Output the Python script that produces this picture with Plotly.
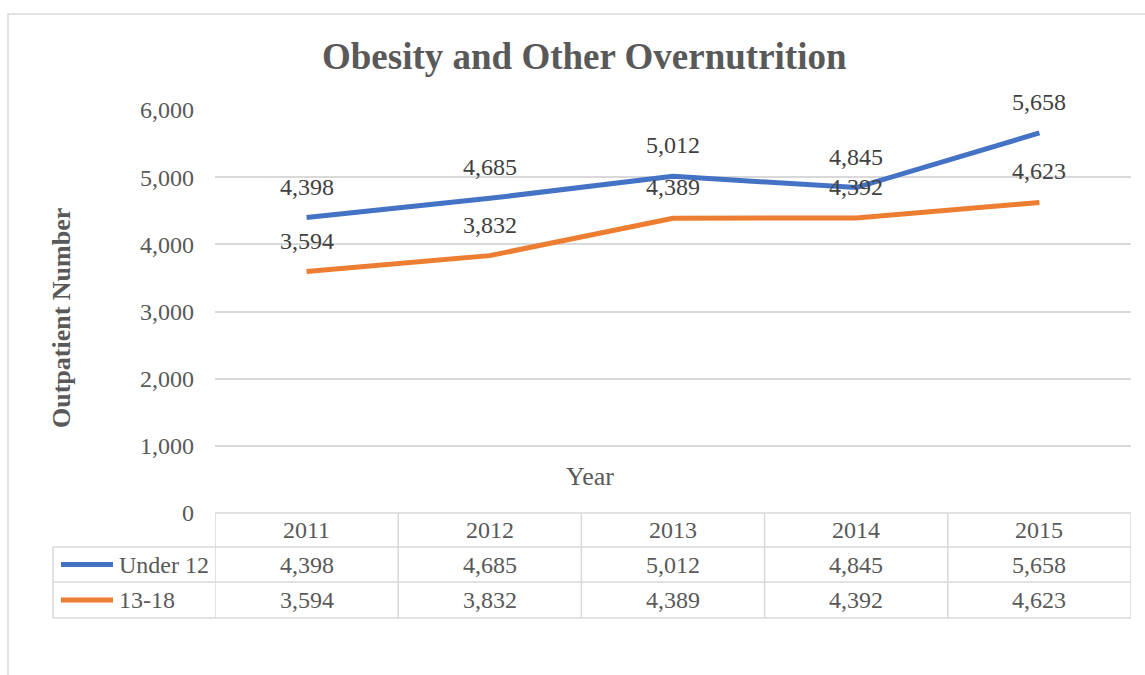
import plotly.graph_objects as go

# Outpatient counts for obesity and other overnutrition, by age group
years = ["2011", "2012", "2013", "2014", "2015"]
under_12 = [4398, 4685, 5012, 4845, 5658]
age_13_18 = [3594, 3832, 4389, 4392, 4623]
series_names = ["Under 12", "13-18"]
series_colors = ["#4472C4", "#ED7D31"]
y_ticks = [0, 1000, 2000, 3000, 4000, 5000, 6000]

FONT = "Liberation Serif, Times New Roman, serif"
GREY = "#595959"
LABEL = "#404040"
GRID = "#D9D9D9"

W, H = 1145, 675
L, R, T, B = 215, 14, 110, 162
PW, PH = W - L - R, H - T - B


def px_x(px):
    return (px - L) / PW


def px_y(py):
    return (H - B - py) / PH


def note(x, y, text, font, xref="paper", yref="paper", **kw):
    d = dict(x=x, y=y, xref=xref, yref=yref, text=text, showarrow=False,
             xanchor="center", yanchor="middle", font=font)
    d.update(kw)
    return d


xs = list(range(len(years)))
fig = go.Figure()
for name, vals, col in zip(series_names, [under_12, age_13_18], series_colors):
    fig.add_trace(go.Scatter(x=xs, y=vals, mode="lines", name=name,
                             line=dict(color=col, width=5), showlegend=False,
                             hoverinfo="skip"))

annotations = []
shapes = []

# value labels above each point
label_font = dict(family=FONT, size=24, color=LABEL)
for vals in [under_12, age_13_18]:
    for i, v in enumerate(vals):
        annotations.append(note(i, v, f"{v:,}", label_font, xref="x", yref="y",
                                yshift=31))

# data table under the plot
row_bounds = [513, 547, 582, 618]
row_centers = [(row_bounds[k] + row_bounds[k + 1]) / 2 for k in range(3)]
tbl_left = 53
line_style = dict(color=GRID, width=1.5)

# horizontal rules
shapes.append(dict(type="line", xref="paper", yref="paper",
                   x0=0, x1=1, y0=px_y(row_bounds[0]), y1=px_y(row_bounds[0]),
                   line=line_style))
for rb in row_bounds[1:]:
    shapes.append(dict(type="line", xref="paper", yref="paper",
                       x0=px_x(tbl_left), x1=1, y0=px_y(rb), y1=px_y(rb),
                       line=line_style))
# vertical rules
shapes.append(dict(type="line", xref="paper", yref="paper",
                   x0=px_x(tbl_left), x1=px_x(tbl_left),
                   y0=px_y(row_bounds[1]), y1=px_y(row_bounds[3]), line=line_style))
for k in range(len(years) + 1):
    shapes.append(dict(type="line", xref="x", yref="paper",
                       x0=k - 0.5, x1=k - 0.5,
                       y0=px_y(row_bounds[0]), y1=px_y(row_bounds[3]), line=line_style))

cell_font = dict(family=FONT, size=24, color=GREY)
for i, yr in enumerate(years):
    annotations.append(note(i, px_y(row_centers[0]), yr, cell_font, xref="x"))
for r, vals in enumerate([under_12, age_13_18]):
    for i, v in enumerate(vals):
        annotations.append(note(i, px_y(row_centers[r + 1]), f"{v:,}", cell_font,
                                xref="x"))

# legend keys inside the table
for r, (name, col) in enumerate(zip(series_names, series_colors)):
    yc = px_y(row_centers[r + 1])
    shapes.append(dict(type="line", xref="paper", yref="paper",
                       x0=px_x(61), x1=px_x(113), y0=yc, y1=yc,
                       line=dict(color=col, width=5)))
    annotations.append(note(px_x(117), yc, name, cell_font, xanchor="left"))

# chart frame
shapes.append(dict(type="rect", xref="paper", yref="paper",
                   x0=px_x(8), x1=px_x(1160), y0=px_y(690), y1=px_y(14),
                   line=dict(color=GRID, width=1.5), layer="below"))

# titles
annotations.append(note(px_x(584), px_y(57), "<b>Obesity and Other Overnutrition</b>",
                        dict(family=FONT, size=37, color=GREY)))
annotations.append(note(px_x(61), px_y(318), "<b>Outpatient Number</b>",
                        dict(family=FONT, size=26, color=GREY), textangle=-90))
annotations.append(note(px_x(590), px_y(476), "Year",
                        dict(family=FONT, size=26, color=GREY)))

fig.update_layout(
    width=W, height=H,
    margin=dict(l=L, r=R, t=T, b=B, pad=0),
    paper_bgcolor="white", plot_bgcolor="white",
    xaxis=dict(range=[-0.5, len(years) - 0.5], showticklabels=False,
               showgrid=False, zeroline=False, showline=False, fixedrange=True),
    yaxis=dict(range=[0, 6000], tickvals=y_ticks,
               ticktext=[f"{t:,}" for t in y_ticks],
               showgrid=True, gridcolor=GRID, gridwidth=1.5, zeroline=False,
               showline=False, ticks="", ticklabelstandoff=20,
               tickfont=dict(family=FONT, size=24, color=GREY), fixedrange=True),
    annotations=annotations,
    shapes=shapes,
    showlegend=False,
)

fig.write_html("out.html")
